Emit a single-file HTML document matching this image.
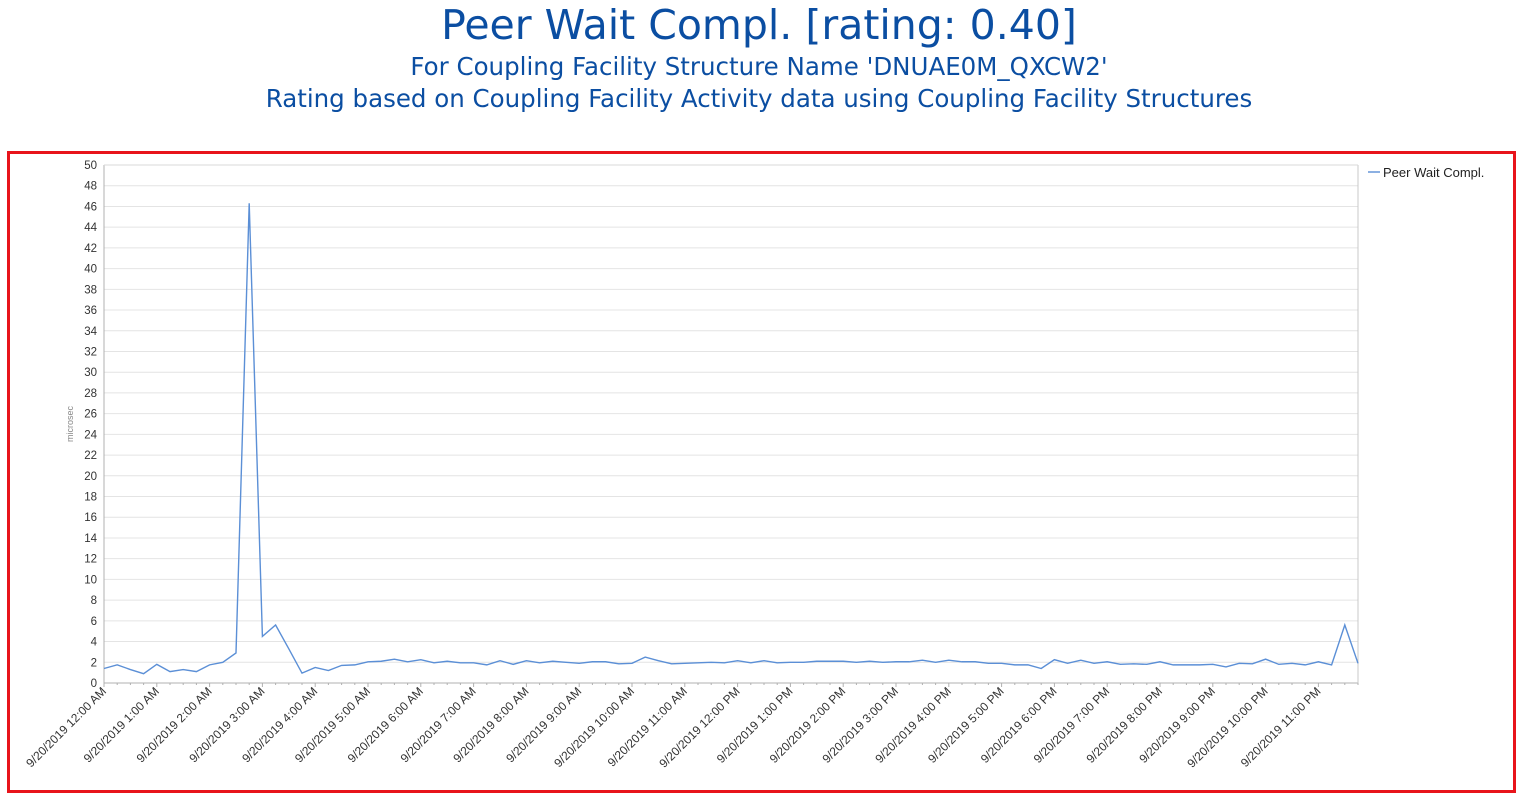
<!DOCTYPE html>
<html><head><meta charset="utf-8"><style>
body{margin:0;background:#fff;width:1518px;height:794px;overflow:hidden;font-family:"Liberation Sans",sans-serif}
.t{position:absolute;left:0;width:1518px;text-align:center;color:#0b4ea2;font-family:"DejaVu Sans",sans-serif}
</style></head><body>
<div class="t" style="top:1px;font-size:41px">Peer Wait Compl. [rating: 0.40]</div>
<div class="t" style="top:52px;font-size:24.5px">For Coupling Facility Structure Name 'DNUAE0M_QXCW2'</div>
<div class="t" style="top:84px;font-size:24.5px">Rating based on Coupling Facility Activity data using Coupling Facility Structures</div>
<div style="position:absolute;left:7px;top:151px;width:1503px;height:636px;border:3px solid #e8141b"></div>
<svg id="c" width="1518" height="794" style="position:absolute;left:0;top:0"></svg>
<script>
const values=[1.4,1.75,1.3,0.9,1.8,1.1,1.3,1.1,1.75,2.0,2.9,46.3,4.5,5.6,3.3,0.95,1.5,1.2,1.7,1.75,2.05,2.1,2.3,2.05,2.25,1.95,2.1,1.95,1.95,1.75,2.15,1.8,2.15,1.95,2.1,2.0,1.9,2.05,2.05,1.85,1.9,2.5,2.15,1.85,1.9,1.95,2.0,1.95,2.15,1.95,2.15,1.95,2.0,2.0,2.1,2.1,2.1,2.0,2.1,2.0,2.05,2.05,2.2,2.0,2.2,2.05,2.05,1.9,1.9,1.75,1.75,1.4,2.25,1.9,2.2,1.9,2.05,1.8,1.85,1.8,2.05,1.75,1.75,1.75,1.8,1.55,1.9,1.85,2.3,1.8,1.9,1.75,2.05,1.75,5.6,1.9];
const hourLabels=["12:00 AM","1:00 AM","2:00 AM","3:00 AM","4:00 AM","5:00 AM","6:00 AM","7:00 AM","8:00 AM","9:00 AM","10:00 AM","11:00 AM","12:00 PM","1:00 PM","2:00 PM","3:00 PM","4:00 PM","5:00 PM","6:00 PM","7:00 PM","8:00 PM","9:00 PM","10:00 PM","11:00 PM"];
const datePrefix="9/20/2019 ";
const yTicks=[0,2,4,6,8,10,12,14,16,18,20,22,24,26,28,30,32,34,36,38,40,42,44,46,48,50];
const X0=104,X1=1358,Y0=683,Y1=165,YMAX=50;
const sx=i=>X0+i*(X1-X0)/(values.length-1);
const sy=v=>Y0-v*(Y0-Y1)/YMAX;
const svg=document.getElementById('c');const NS='http://www.w3.org/2000/svg';
function mk(tag,attrs,parent){const e=document.createElementNS(NS,tag);for(const k in attrs)e.setAttribute(k,attrs[k]);(parent||svg).appendChild(e);return e;}
yTicks.forEach(v=>{
  const g=mk('line',{x1:X0,x2:X1,y1:sy(v),y2:sy(v),stroke:v===0?'#b0b0b0':'#e4e4e4','stroke-width':1});
  
  
  const t=mk('text',{x:97,y:sy(v)+4,'text-anchor':'end','font-size':11.5,fill:'#333'});
  t.textContent=v;
  
  
});
const ax=mk('line',{x1:X0,x2:X0,y1:Y1,y2:Y0,stroke:'#b0b0b0'});


const rb=mk('line',{x1:X1,x2:X1,y1:Y1,y2:Y0,stroke:'#c8c8c8'});


const tb=mk('line',{x1:X0,x2:X1,y1:Y1,y2:Y1,stroke:'#d8d8d8'});


const yt=mk('text',{x:0,y:0,'font-size':9,fill:'#888','text-anchor':'middle',transform:'translate(73,424) rotate(-90)'});
yt.textContent='microsec';


for(let i=0;i<values.length;i++){
  const tk=mk('line',{x1:sx(i),x2:sx(i),y1:Y0,y2:Y0+(i%4===0?4:2),stroke:'#b0b0b0'});
  
  
}
hourLabels.forEach((h,k)=>{
  const x=sx(k*4);
  const t=mk('text',{x:0,y:0,'font-size':12,fill:'#333','text-anchor':'end',transform:`translate(${x+3},${Y0+9}) rotate(-45)`});
  t.textContent=datePrefix+h;
  
  
});
const p=mk('polyline',{points:values.map((v,i)=>sx(i)+','+sy(v)).join(' '),fill:'none',stroke:'#5b8fd6','stroke-width':1.4});


const ll=mk('line',{x1:1368,x2:1380,y1:172,y2:172,stroke:'#5b8fd6','stroke-width':1.4});


const lt=mk('text',{x:1383,y:177,'font-size':13,fill:'#222'});
lt.textContent='Peer Wait Compl.';


</script>
</body></html>
